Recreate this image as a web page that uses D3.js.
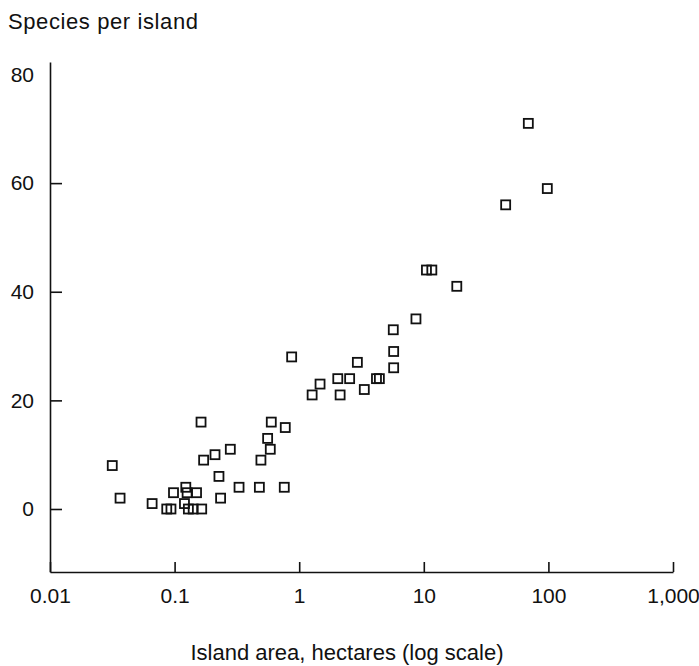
<!DOCTYPE html>
<html>
<head>
<meta charset="utf-8">
<script src="https://cdn.jsdelivr.net/npm/d3@7"></script>
<style>
  body { margin: 0; background: #fff; }
  svg { display: block; font-family: "Liberation Sans", Arial, sans-serif; }
  .axis path, .axis line { stroke: #111; stroke-width: 1.6; }
  .axis text { font-size: 21px; fill: #111; }
</style>
</head>
<body>
<div id="chart"></div>
<script>
// island area (hectares) and species count
const area = [0.0316, 0.0365, 0.066, 0.0865, 0.0935, 0.098, 0.123, 0.12, 0.126, 0.150,
  0.129, 0.141, 0.165, 0.163, 0.171, 0.211, 0.28, 0.227, 0.234, 0.329,
  0.479, 0.759, 0.493, 0.586, 0.558, 0.597, 0.773, 0.87, 1.27, 1.47,
  2.04, 2.13, 2.54, 2.93, 3.33, 4.17, 4.4, 5.73, 5.73, 5.69,
  8.65, 10.5, 11.6, 18.4, 45.4, 69, 98];
const species = [8, 2, 1, 0, 0, 3, 4, 1, 3, 3,
  0, 0, 0, 16, 9, 10, 11, 6, 2, 4,
  4, 4, 9, 11, 13, 16, 15, 28, 21, 23,
  24, 21, 24, 27, 22, 24, 24, 29, 26, 33,
  35, 44, 44, 41, 56, 71, 59];

const xTicks = [0.01, 0.1, 1, 10, 100, 1000];
const xTickLabels = ["0.01", "0.1", "1", "10", "100", "1,000"];
const yTicks = [0, 20, 40, 60, 80];

const width = 699, height = 666;
const margin = {left: 50, right: 673, top: 62, bottom: 572};

const svg = d3.select("#chart").append("svg")
  .attr("width", width)
  .attr("height", height);

const x = d3.scaleLog().domain([0.01, 1000]).range([margin.left, margin.right]);
const y = d3.scaleLinear().domain([-11.6, 82.3]).range([margin.bottom, margin.top]);

// x axis, ticks point up into the plot
const xAxis = d3.axisBottom(x)
  .tickValues(xTicks)
  .tickFormat((d, i) => xTickLabels[i])
  .tickSizeInner(-10)
  .tickSizeOuter(0)
  .tickPadding(16);

svg.append("g")
  .attr("class", "x axis")
  .attr("transform", "translate(0," + margin.bottom + ")")
  .call(xAxis);

// y axis, ticks point right
const yAxis = d3.axisLeft(y)
  .tickValues(yTicks)
  .tickSizeInner(-12)
  .tickSizeOuter(0)
  .tickPadding(16);

const gy = svg.append("g")
  .attr("class", "y axis")
  .attr("transform", "translate(" + margin.left + ",0)")
  .call(yAxis);

// the top label has no tick mark in the original
gy.selectAll(".tick").filter(d => d === 80).select("line").remove();

const data = area.map((a, i) => ({ area: a, species: species[i] }));
const s = 9;

svg.append("g")
  .selectAll("rect")
  .data(data)
  .join("rect")
    .attr("x", d => x(d.area) - s / 2)
    .attr("y", d => y(d.species) - s / 2)
    .attr("width", s)
    .attr("height", s)
    .attr("fill", "none")
    .attr("stroke", "#111")
    .attr("stroke-width", 1.8);

svg.append("text")
  .attr("x", 8)
  .attr("y", 29)
  .attr("font-size", 22)
  .attr("letter-spacing", 0.6)
  .attr("fill", "#111")
  .text("Species per island");

svg.append("text")
  .attr("x", 347)
  .attr("y", 660)
  .attr("text-anchor", "middle")
  .attr("font-size", 22)
  .attr("fill", "#111")
  .text("Island area, hectares (log scale)");
</script>
</body>
</html>
